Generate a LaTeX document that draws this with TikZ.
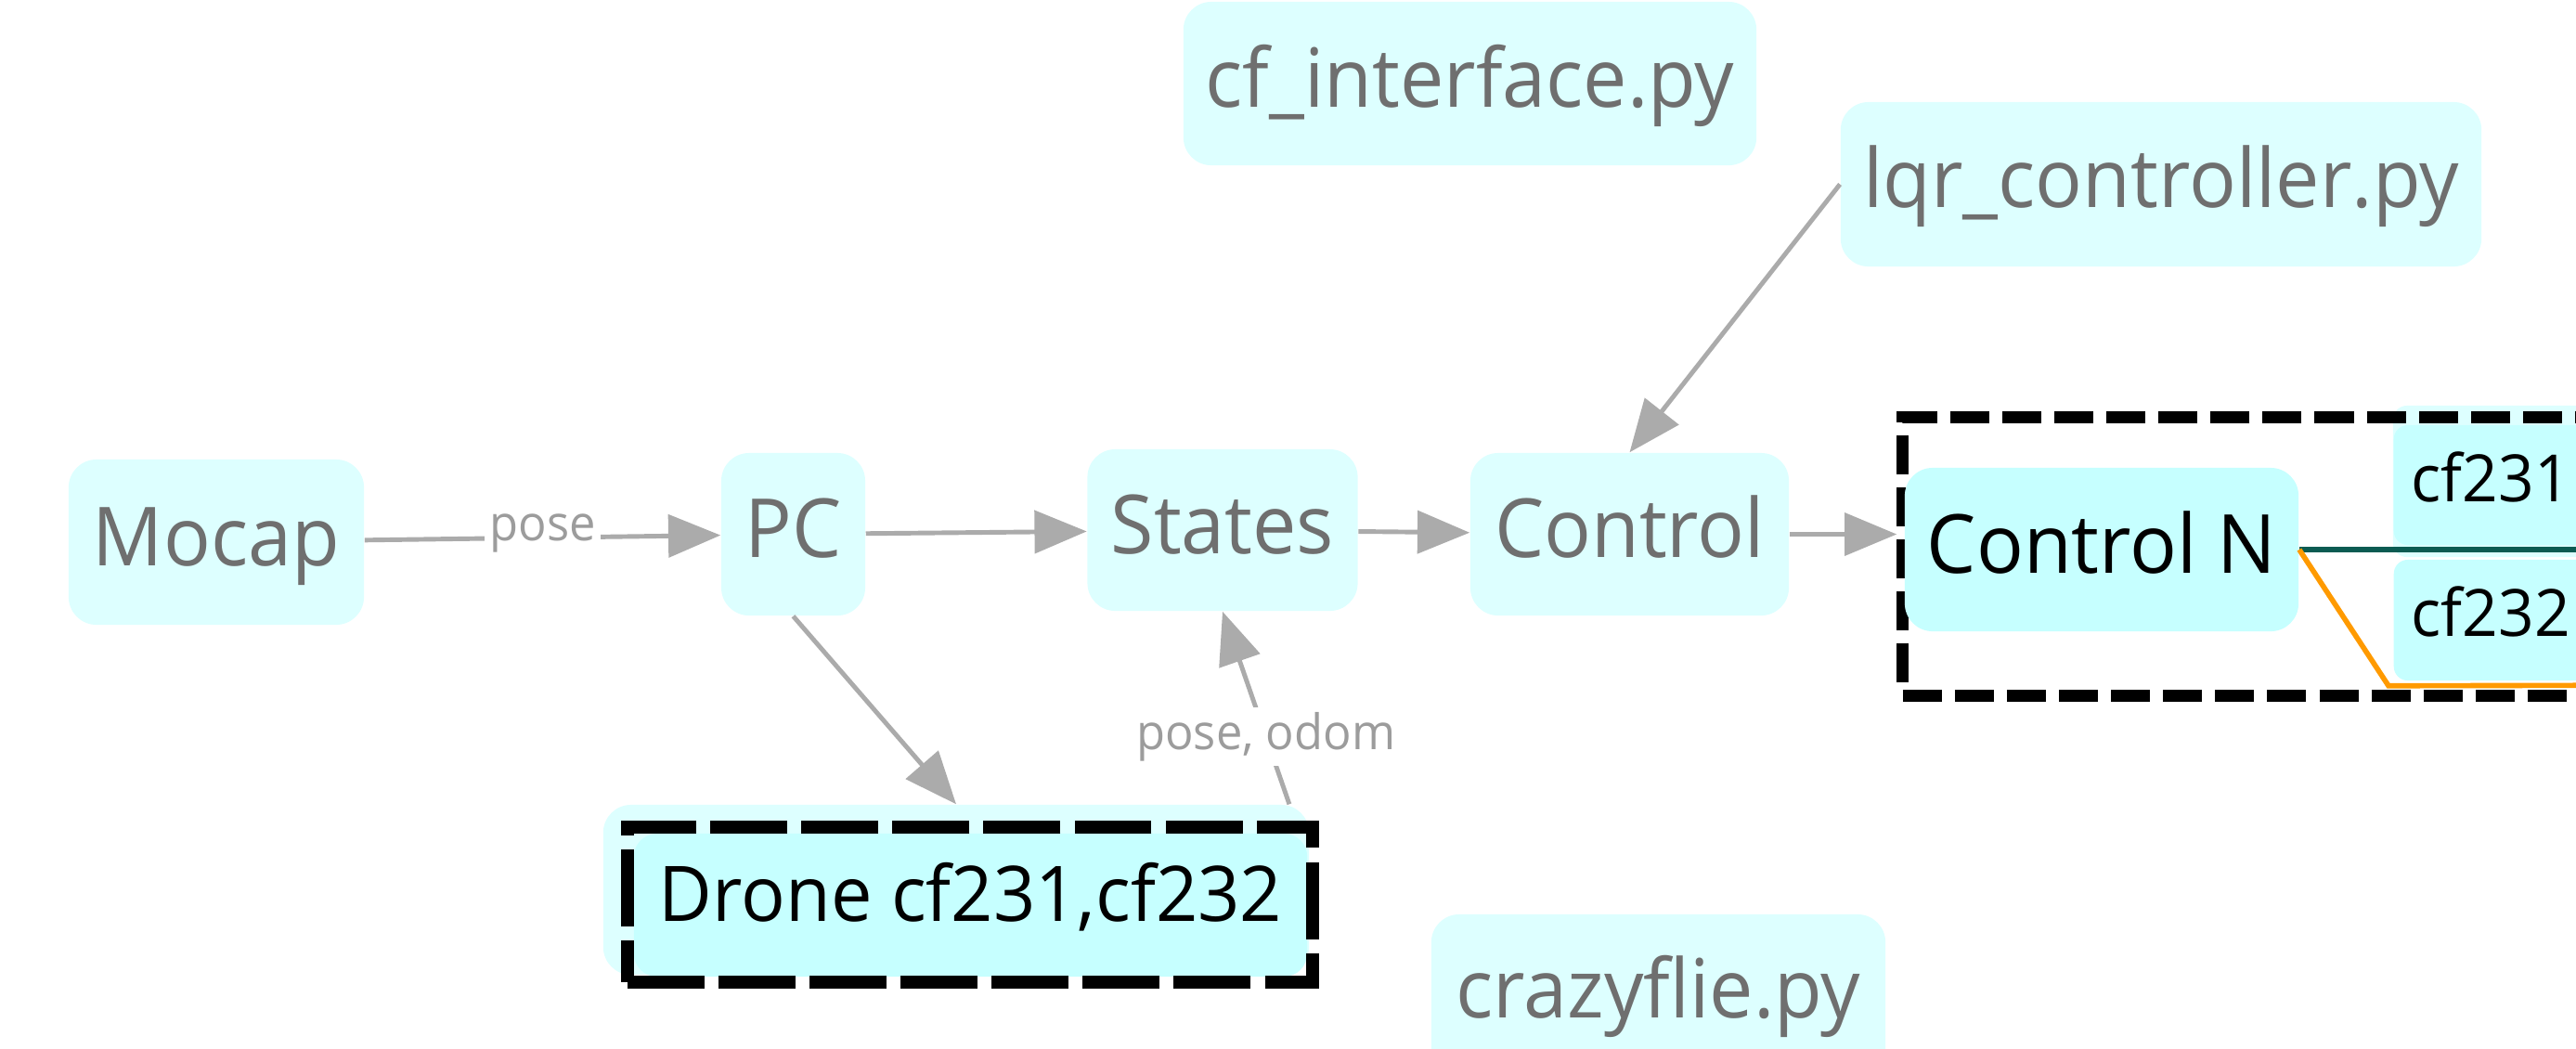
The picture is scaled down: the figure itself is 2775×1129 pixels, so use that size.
\documentclass[tikz,border=0pt]{standalone}
\usepackage{fontspec}
\setmainfont{Open Sans}[FakeStretch=0.96]
\usetikzlibrary{arrows.meta}

\definecolor{lightcyan}{HTML}{DDFFFF}
\definecolor{deepcyan}{HTML}{C6FFFF}
\definecolor{nodegray}{HTML}{6F6F6F}
\definecolor{edgegray}{HTML}{ABABAB}
\definecolor{labelgray}{HTML}{9C9C9C}
\definecolor{tealline}{HTML}{0B5B52}
\definecolor{orangeline}{HTML}{FF9A00}

\tikzset{
  boxbase/.style={rounded corners=0.3cm, inner sep=0pt, align=center,
    text height=0.72cm, text depth=0.22cm},
  light/.style={boxbase, fill=lightcyan, text=nodegray,
    font=\fontsize{25}{30}\selectfont},
  deep/.style={boxbase, fill=deepcyan, text=black,
    font=\fontsize{25}{30}\selectfont},
  small/.style={deep, rounded corners=0.15cm, font=\fontsize{20}{24}\selectfont,
    text height=0.58cm, text depth=0.23cm, anchor=west, inner xsep=0.19cm,
    text width=3.4cm, align=left},
  flow/.style={draw=edgegray, line width=1.4pt, -{Triangle[length=16pt,width=13pt]}},
  elabel/.style={fill=white, text=labelgray, font=\fontsize{15}{18}\selectfont,
    inner sep=1.5pt},
  groupbox/.style={draw=black, line width=3.7pt, inner sep=0pt},
  wire/.style={line width=1.6pt, line join=miter},
}

\begin{document}
\begin{tikzpicture}[x=0.01cm, y=-0.01cm]
  \useasboundingbox (0,0) rectangle (2775,1129);
  \clip (0,0) rectangle (2775,1129);

  % script nodes
  \node[light, minimum width=6.17cm, minimum height=1.76cm] (cfif) at (1583.5,90) {cf\_interface.py};
  \node[light, minimum width=6.90cm, minimum height=1.77cm] (lqr) at (2328,198.5) {lqr\_controller.py};
  \node[light, minimum width=4.89cm, minimum height=1.72cm] (crazy) at (1786.5,1071) {crazyflie.py};

  % main pipeline
  \node[light, minimum width=3.18cm, minimum height=1.78cm] (mocap) at (233,584) {Mocap};
  \node[light, minimum width=1.55cm, minimum height=1.75cm] (pc) at (854.5,575.5) {PC};
  \node[light, minimum width=2.91cm, minimum height=1.74cm] (states) at (1317,571) {States};
  \node[light, minimum width=3.43cm, minimum height=1.75cm] (control) at (1755.5,575.5) {Control};

  % drone group
  \node[boxbase, fill=lightcyan, minimum width=7.60cm, minimum height=1.83cm] (drone) at (1030,958.5) {};
  \node[deep, rounded corners=0.25cm, minimum width=7.25cm, minimum height=1.54cm,
        font=\fontsize{23.5}{28}\selectfont, text height=0.64cm, text depth=0.30cm]
        (droneinner) at (1045.5,975) {Drone cf231,cf232};
  \node[groupbox, line width=4pt, dash pattern=on 23.6pt off 4.3pt,
        minimum width=7.38cm, minimum height=1.67cm] (dronegroup) at (1045,974.5) {};

  % control group
  \node[boxbase, fill=lightcyan, rounded corners=0.15cm, minimum width=3.72cm, minimum height=1.63cm] (cfback) at (2764,518.5) {};
  \node[groupbox, dash pattern=on 11.95pt off 4pt,
        minimum width=8.50cm, minimum height=2.99cm] (ctrlgroup) at (2475,599.5) {};
  \node[small, minimum height=1.29cm] (cfa) at (2578,522.5) {cf231};
  \node[small, minimum height=1.30cm] (cfb) at (2578,668) {cf232};
  \node[deep, minimum width=4.24cm, minimum height=1.76cm] (ctrlN) at (2264,592) {Control N};

  \coordinate (tealend) at (2900,592);
  \coordinate (orangeend) at (2900,738);
  \draw[wire, draw=tealline] (ctrlN.east) -- (tealend);
  \draw[wire, draw=orangeline] (ctrlN.east) -- ([shift={(-5,5)}]cfb.south west) -- (orangeend);

  % connectors
  \draw[flow] (mocap) -- node[elabel, anchor=base, yshift=-1pt] (lblpose) {pose} (pc);
  \draw[flow] (pc) -- (states);
  \draw[flow] (states) -- (control);
  \draw[flow] (control.east) -- (control.east -| ctrlgroup.west);
  \draw[flow] (lqr.west) -- (control.north);
  \draw[flow] (pc.south) -- (drone.north);
  \draw[flow] ([xshift=-0.22cm]drone.north east) -- node[elabel, pos=0.35] (lblodom) {pose, odom} (states.south);
\end{tikzpicture}
\end{document}
